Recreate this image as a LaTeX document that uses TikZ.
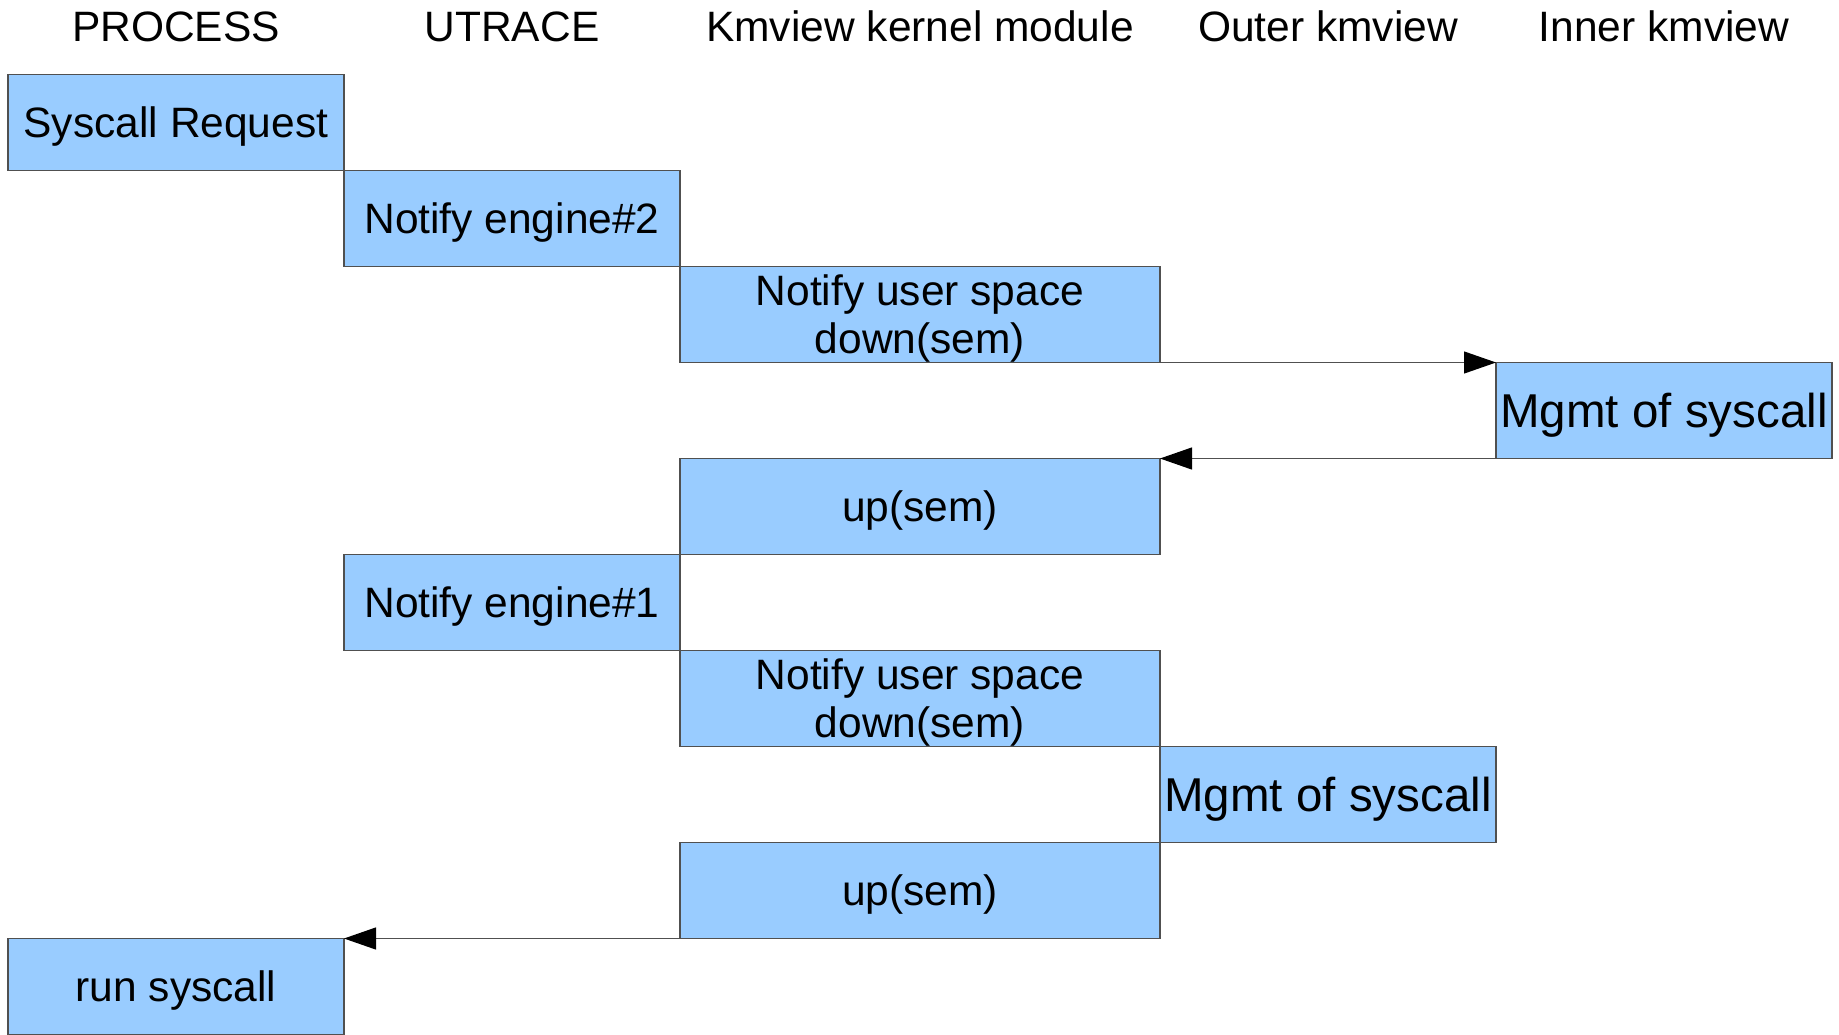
\documentclass[tikz,border=0pt]{standalone}
\usepackage{fontspec}
\setmainfont{Liberation Sans}
\usetikzlibrary{arrows.meta}
\definecolor{boxblue}{HTML}{99CCFF}
\definecolor{edgegray}{HTML}{505050}
\begin{document}
\begin{tikzpicture}[x=1pt,y=-1pt,
  box/.style={draw=edgegray, line width=1.2pt, fill=boxblue, inner sep=0pt, outer sep=0pt,
    minimum height=96pt, font=\fontsize{42.5}{48}\selectfont,
    text height=30.4pt, text depth=0pt, align=center},
  narrowbox/.style={box, minimum width=336pt},
  widebox/.style={box, minimum width=480pt},
  twoline/.style={widebox, text height=78.4pt, text depth=0pt},
  mgmtbox/.style={narrowbox, font=\fontsize{47.5}{52}\selectfont, text height=34pt},
  header/.style={anchor=base, inner sep=0pt, font=\fontsize{42.5}{48}\selectfont},
  arr/.style={draw=edgegray, line width=1.2pt, -{Triangle[length=32pt,width=22pt,color=black]}}
]
\useasboundingbox (0,0) rectangle (1839,1035);
\fill[white] (0,0) rectangle (1839,1035);

% headers
\node[header] (h1) at (176,42) {PROCESS};
\node[header] (h2) at (512,42) {UTRACE};
\node[header] (h3) at (920,42) {Kmview kernel module};
\node[header] (h4) at (1328,42) {Outer kmview};
\node[header] (h5) at (1664,42) {Inner kmview};

% boxes
\node[narrowbox] (b1) at (176,122.5) {Syscall Request};
\node[narrowbox] (b2) at (512,218.5) {Notify engine\#2};
\node[twoline] (b3) at (920,314.5) {Notify user space\\down(sem)};
\node[mgmtbox] (b4) at (1664,410.5) {Mgmt of syscall};
\node[widebox] (b5) at (920,506.5) {up(sem)};
\node[narrowbox] (b6) at (512,602.5) {Notify engine\#1};
\node[twoline] (b7) at (920,698.5) {Notify user space\\down(sem)};
\node[mgmtbox] (b8) at (1328,794.5) {Mgmt of syscall};
\node[widebox] (b9) at (920,890.5) {up(sem)};
\node[narrowbox] (b10) at (176,986.5) {run syscall};

% connectors
\draw[arr] (b3.south east) -- (b4.north west);
\draw[arr] (b4.south west) -- (b5.north east);
\draw[arr] (b9.south west) -- (b10.north east);
\end{tikzpicture}
\end{document}
